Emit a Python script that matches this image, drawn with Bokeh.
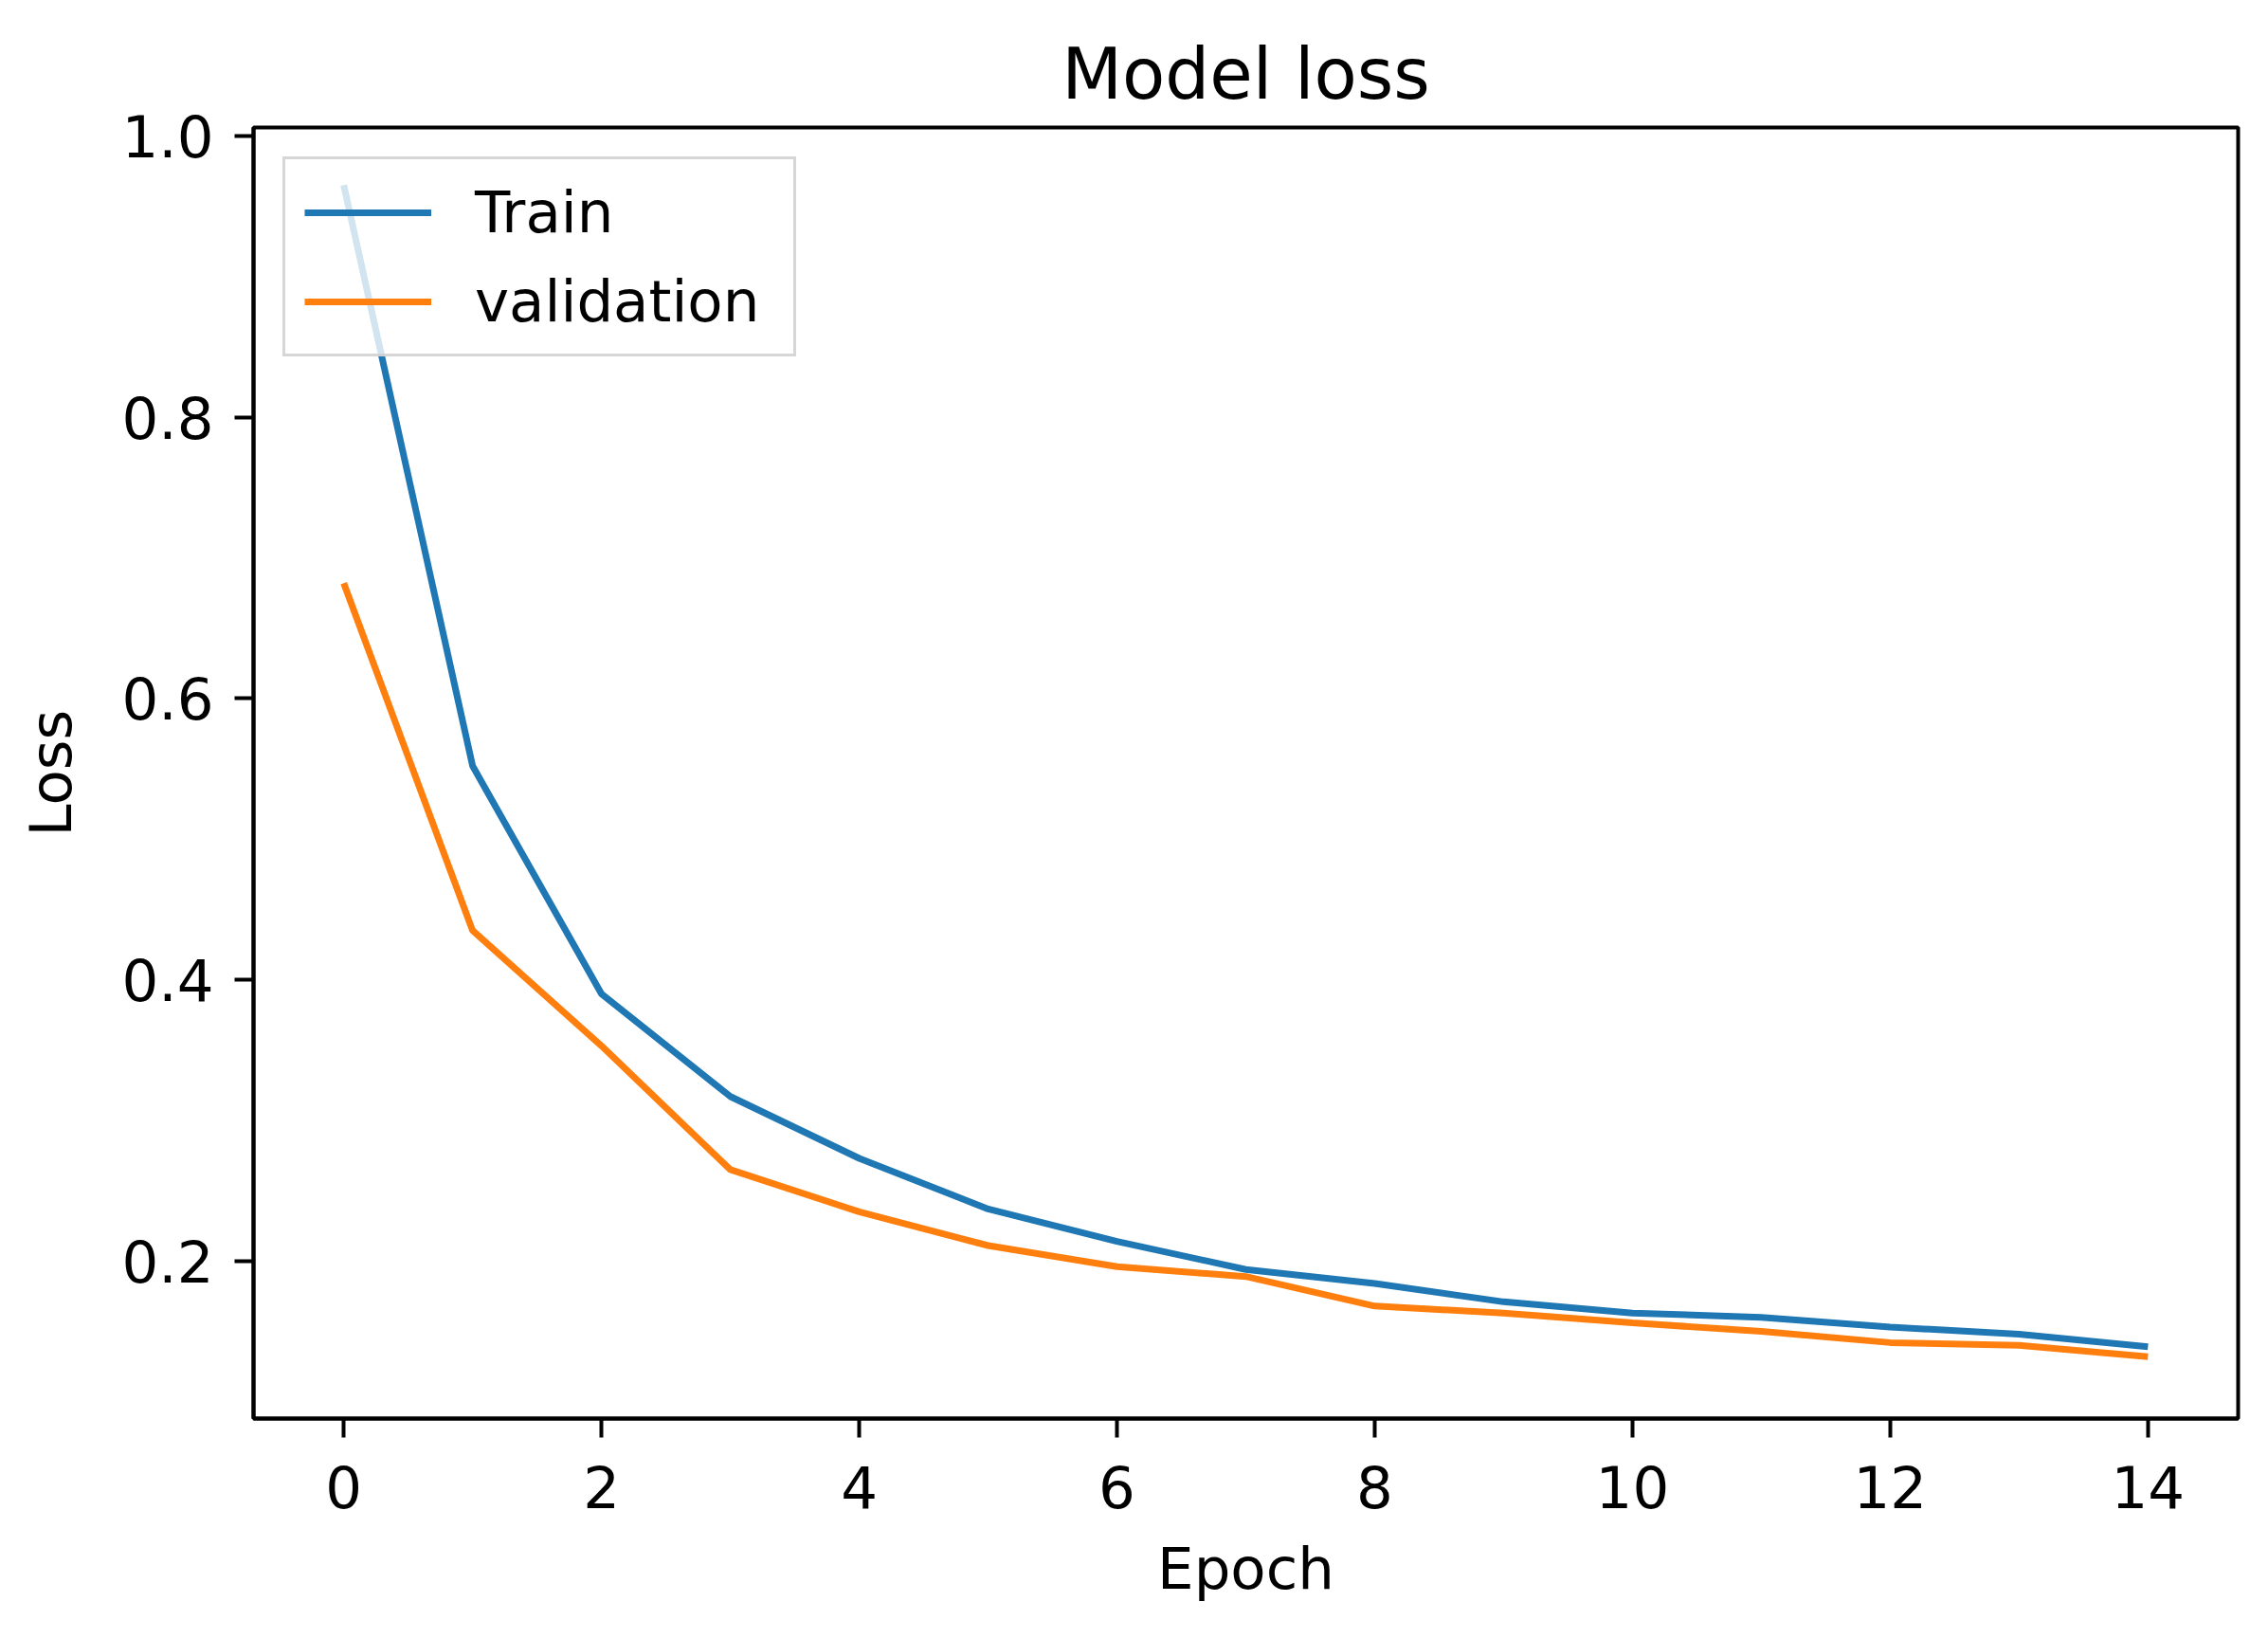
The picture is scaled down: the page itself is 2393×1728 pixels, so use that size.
from bokeh.plotting import figure
from bokeh.models import FixedTicker, Range1d, Legend, LegendItem, PrintfTickFormatter
from bokeh.embed import file_html
from bokeh.resources import INLINE

epochs = list(range(15))
train_loss = [0.965, 0.552, 0.390, 0.317, 0.273, 0.237, 0.214, 0.194, 0.184, 0.171,
              0.163, 0.160, 0.153, 0.148, 0.139]
val_loss = [0.682, 0.435, 0.353, 0.265, 0.235, 0.211, 0.196, 0.189, 0.168, 0.163,
            0.156, 0.150, 0.142, 0.140, 0.132]
x_ticks = [0, 2, 4, 6, 8, 10, 12, 14]
y_ticks = [0.2, 0.4, 0.6, 0.8, 1.0]

FONT = "DejaVu Sans"

p = figure(width=2377, height=1712, output_backend="svg", toolbar_location=None,
           x_range=Range1d(-0.7, 14.7), y_range=Range1d(0.088, 1.006),
           min_border_left=267, min_border_right=16, min_border_top=134,
           min_border_bottom=216)

p.title.text = "Model loss"
p.title.align = "center"
p.title.text_font = FONT
p.title.text_font_size = "74px"
p.title.text_font_style = "normal"
p.title.text_color = "#000000"
p.title.standoff = 28

r1 = p.line(epochs, train_loss, line_color="#1f77b4", line_width=7)
r2 = p.line(epochs, val_loss, line_color="#ff7f0e", line_width=7)

p.xgrid.visible = False
p.ygrid.visible = False
p.outline_line_color = "#000000"
p.outline_line_width = 4
p.outline_line_alpha = 1.0

p.xaxis.ticker = FixedTicker(ticks=x_ticks)
p.yaxis.ticker = FixedTicker(ticks=y_ticks)
p.yaxis.formatter = PrintfTickFormatter(format="%.1f")
for ax in (p.xaxis[0], p.yaxis[0]):
    ax.major_label_text_font = FONT
    ax.major_label_text_font_size = "61px"
    ax.major_label_text_color = "#000000"
    ax.axis_label_text_font = FONT
    ax.axis_label_text_font_size = "61px"
    ax.axis_label_text_font_style = "normal"
    ax.axis_label_text_color = "#000000"
    ax.axis_line_color = "#000000"
    ax.axis_line_width = 4
    ax.major_tick_line_color = "#000000"
    ax.major_tick_line_width = 4
    ax.major_tick_out = 20
    ax.major_tick_in = 0
    ax.minor_tick_line_color = None
    ax.major_label_standoff = 22

p.xaxis.major_label_standoff = 29
p.xaxis.axis_label = "Epoch"
p.yaxis.axis_label = "Loss"
p.xaxis.axis_label_standoff = 25
p.yaxis.axis_label_standoff = 36

legend = Legend(items=[LegendItem(label="Train", renderers=[r1]),
                       LegendItem(label="validation", renderers=[r2])],
                location="top_left")
legend.margin = 31
legend.padding = 20
legend.spacing = 23
legend.glyph_width = 134
legend.glyph_height = 70
legend.label_height = 70
legend.label_width = 316
legend.label_standoff = 46
legend.label_text_font = FONT
legend.label_text_font_size = "61px"
legend.label_text_color = "#000000"
legend.border_line_color = "#cccccc"
legend.border_line_width = 3
legend.border_line_alpha = 0.8
legend.background_fill_color = "#ffffff"
legend.background_fill_alpha = 0.8
p.add_layout(legend, "center")

open("out.html", "w").write(file_html(p, INLINE))
